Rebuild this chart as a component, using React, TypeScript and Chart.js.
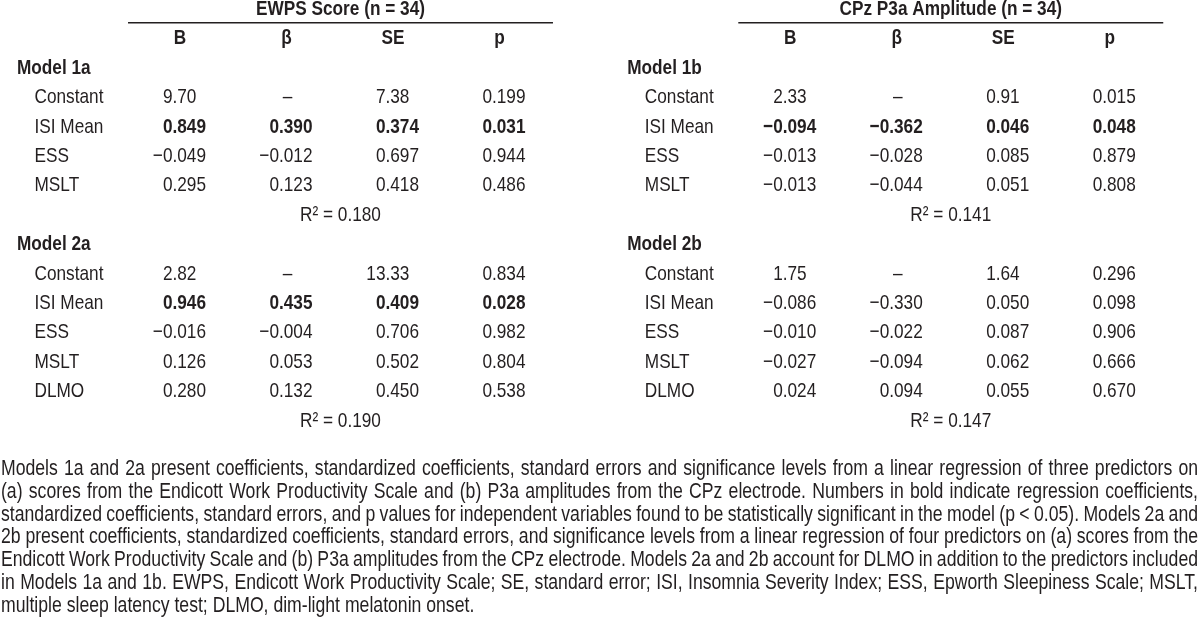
import React, { useEffect, useRef } from "react";
import { Chart, registerables } from "chart.js";

Chart.register(...registerables);

// ---------------- data ----------------
const TABLE_TITLES = ["EWPS Score (n = 34)", "CPz P3a Amplitude (n = 34)"];
const COLUMN_HEADERS = ["B", "β", "SE", "p"];
const MODEL_NAMES_EWPS = ["Model 1a", "Model 2a"];
const MODEL_NAMES_CPZ = ["Model 1b", "Model 2b"];
const PREDICTORS_MODEL1 = ["Constant", "ISI Mean", "ESS", "MSLT"];
const PREDICTORS_MODEL2 = ["Constant", "ISI Mean", "ESS", "MSLT", "DLMO"];

// EWPS Score – Model 1a
const EWPS_1A_B = ["9.70", "0.849", "−0.049", "0.295"];
const EWPS_1A_BETA = ["–", "0.390", "−0.012", "0.123"];
const EWPS_1A_SE = ["7.38", "0.374", "0.697", "0.418"];
const EWPS_1A_P = ["0.199", "0.031", "0.944", "0.486"];
const EWPS_1A_SIG = [false, true, false, false];
const EWPS_1A_R2 = "0.180";

// EWPS Score – Model 2a
const EWPS_2A_B = ["2.82", "0.946", "−0.016", "0.126", "0.280"];
const EWPS_2A_BETA = ["–", "0.435", "−0.004", "0.053", "0.132"];
const EWPS_2A_SE = ["13.33", "0.409", "0.706", "0.502", "0.450"];
const EWPS_2A_P = ["0.834", "0.028", "0.982", "0.804", "0.538"];
const EWPS_2A_SIG = [false, true, false, false, false];
const EWPS_2A_R2 = "0.190";

// CPz P3a Amplitude – Model 1b
const CPZ_1B_B = ["2.33", "−0.094", "−0.013", "−0.013"];
const CPZ_1B_BETA = ["–", "−0.362", "−0.028", "−0.044"];
const CPZ_1B_SE = ["0.91", "0.046", "0.085", "0.051"];
const CPZ_1B_P = ["0.015", "0.048", "0.879", "0.808"];
const CPZ_1B_SIG = [false, true, false, false];
const CPZ_1B_R2 = "0.141";

// CPz P3a Amplitude – Model 2b
const CPZ_2B_B = ["1.75", "−0.086", "−0.010", "−0.027", "0.024"];
const CPZ_2B_BETA = ["–", "−0.330", "−0.022", "−0.094", "0.094"];
const CPZ_2B_SE = ["1.64", "0.050", "0.087", "0.062", "0.055"];
const CPZ_2B_P = ["0.296", "0.098", "0.906", "0.666", "0.670"];
const CPZ_2B_SIG = [false, false, false, false, false];
const CPZ_2B_R2 = "0.147";

const CAPTION_LINES = [
  "Models 1a and 2a present coefficients, standardized coefficients, standard errors and significance levels from a linear regression of three predictors on",
  "(a) scores from the Endicott Work Productivity Scale and (b) P3a amplitudes from the CPz electrode. Numbers in bold indicate regression coefficients,",
  "standardized coefficients, standard errors, and p values for independent variables found to be statistically significant in the model (p < 0.05). Models 2a and",
  "2b present coefficients, standardized coefficients, standard errors, and significance levels from a linear regression of four predictors on (a) scores from the",
  "Endicott Work Productivity Scale and (b) P3a amplitudes from the CPz electrode. Models 2a and 2b account for DLMO in addition to the predictors included",
  "in Models 1a and 1b. EWPS, Endicott Work Productivity Scale; SE, standard error; ISI, Insomnia Severity Index; ESS, Epworth Sleepiness Scale; MSLT,",
  "multiple sleep latency test; DLMO, dim-light melatonin onset.",
];

// ---------------- layout (scale units) ----------------
const L = {
  tableOffset: 5.73,
  modelX: -0.775,
  predictorX: -0.61,
  centerX: 2.263,
  headerShift: 0.245,
  dashShift: 0.235,
  ruleX: [0.268, 4.258],
  titleRow: -2,
  headerRow: -1,
  ruleRow: -1.54,
  model1Row: 0,
  model2Row: 6,
  xMin: -0.934,
  xMax: 10.333,
  yMin: -2.313,
  yMax: 18.98,
  fontSize: 21,
  captionFontSize: 21.5,
  captionTop: 469,
  captionPitch: 22.8,
  captionLeft: 1,
  captionRight: 1198,
  color: "#231f20",
};

type Cell = { x: number; y: number; text: string; kind: string; bold?: boolean; align: string };

function buildTable(
  t: number,
  modelNames: string[],
  m1: string[][],
  m1sig: boolean[],
  m1r2: string,
  m2: string[][],
  m2sig: boolean[],
  m2r2: string
): Cell[] {
  const off = t * L.tableOffset;
  const cells: Cell[] = [];
  cells.push({ x: L.centerX + off, y: L.titleRow, text: TABLE_TITLES[t], kind: "title", bold: true, align: "center" });
  COLUMN_HEADERS.forEach((h, c) =>
    cells.push({ x: c + 1 + off - L.headerShift, y: L.headerRow, text: h, kind: "colhead", bold: true, align: "center" })
  );
  const addModel = (row0: number, name: string, preds: string[], cols: string[][], sig: boolean[], r2: string) => {
    cells.push({ x: L.modelX + off, y: row0, text: name, kind: "model", bold: true, align: "left" });
    preds.forEach((p, i) => {
      cells.push({ x: L.predictorX + off, y: row0 + 1 + i, text: p, kind: "pred", align: "left" });
      cols.forEach((col, c) => {
        const v = col[i];
        if (v === "–") {
          cells.push({ x: c + 1 + off - L.dashShift, y: row0 + 1 + i, text: v, kind: "num", bold: sig[i], align: "center" });
        } else {
          cells.push({ x: c + 1 + off, y: row0 + 1 + i, text: v, kind: "num", bold: sig[i], align: "decimal" });
        }
      });
    });
    cells.push({ x: L.centerX + off, y: row0 + 1 + preds.length, text: "R² = " + r2, kind: "r2", align: "center" });
  };
  addModel(L.model1Row, modelNames[0], PREDICTORS_MODEL1, m1, m1sig, m1r2);
  addModel(L.model2Row, modelNames[1], PREDICTORS_MODEL2, m2, m2sig, m2r2);
  return cells;
}

let NARROW: boolean | null = null;
function narrowAvailable(): boolean {
  if (NARROW !== null) return NARROW;
  const c = document.createElement("canvas").getContext("2d") as CanvasRenderingContext2D;
  c.font = '50px "Liberation Sans Narrow", monospace';
  const a = c.measureText("Constant ISI Mean").width;
  c.font = "50px monospace";
  const b = c.measureText("Constant ISI Mean").width;
  NARROW = Math.abs(a - b) > 0.5;
  return NARROW;
}

function setFont(ctx: CanvasRenderingContext2D, bold: boolean, size: number): number {
  if (narrowAvailable()) {
    ctx.font = `${bold ? "bold " : ""}${size}px "Liberation Sans Narrow"`;
    return 1;
  }
  ctx.font = `${bold ? "bold " : ""}${size}px "Liberation Sans", Arial, sans-serif`;
  return 0.82;
}

function drawText(ctx: CanvasRenderingContext2D, text: string, x: number, y: number, bold: boolean, size: number, align: string) {
  const sx = setFont(ctx, bold, size);
  const w = ctx.measureText(text).width * sx;
  let left = x;
  if (align === "right") left = x - w;
  else if (align === "center") left = x - w / 2;
  else if (align === "decimal") {
    const twoDec = /\.\d{2}$/.test(text);
    const shift = twoDec ? ctx.measureText("0").width * sx : 0;
    left = x - shift - w;
  }
  ctx.save();
  ctx.translate(left, y);
  ctx.scale(sx, 1);
  ctx.textAlign = "left";
  ctx.textBaseline = "middle";
  ctx.fillText(text, 0, 0);
  ctx.restore();
}

function drawCaption(ctx: CanvasRenderingContext2D) {
  const sx = setFont(ctx, false, L.captionFontSize);
  ctx.save();
  ctx.fillStyle = L.color;
  ctx.textAlign = "left";
  ctx.textBaseline = "middle";
  const target = L.captionRight - L.captionLeft;
  CAPTION_LINES.forEach((line, li) => {
    const y = L.captionTop + li * L.captionPitch;
    const words = line.split(" ");
    const ws = words.map((w) => ctx.measureText(w).width * sx);
    const sum = ws.reduce((a, b) => a + b, 0);
    const spaceW = ctx.measureText(" ").width * sx;
    const last = li === CAPTION_LINES.length - 1;
    let gap = spaceW;
    let squeeze = 1;
    if (!last && words.length > 1) {
      gap = (target - sum) / (words.length - 1);
      if (gap < spaceW * 0.6) {
        gap = spaceW * 0.6;
        squeeze = (target - gap * (words.length - 1)) / sum;
      }
    }
    let x = L.captionLeft;
    words.forEach((w, i) => {
      ctx.save();
      ctx.translate(x, y);
      ctx.scale(sx * squeeze, 1);
      ctx.fillText(w, 0, 0);
      ctx.restore();
      x += ws[i] * squeeze + gap;
    });
  });
  ctx.restore();
}

const tableTextPlugin = {
  id: "tableText",
  afterDatasetsDraw(chart: any) {
    const ctx: CanvasRenderingContext2D = chart.ctx;
    ctx.save();
    ctx.fillStyle = L.color;
    chart.data.datasets.forEach((ds: any, di: number) => {
      if (ds.isRule) return;
      const meta = chart.getDatasetMeta(di);
      meta.data.forEach((el: any, i: number) => {
        const cell: Cell = ds.data[i];
        drawText(ctx, cell.text, el.x, el.y, !!cell.bold, L.fontSize, cell.align);
      });
    });
    ctx.restore();
    drawCaption(ctx);
  },
};

export default function App() {
  const ref = useRef<HTMLCanvasElement | null>(null);
  useEffect(() => {
    document.body.style.margin = "0";
    const canvas = ref.current;
    if (!canvas) return;
    const ewps = buildTable(
      0,
      MODEL_NAMES_EWPS,
      [EWPS_1A_B, EWPS_1A_BETA, EWPS_1A_SE, EWPS_1A_P],
      EWPS_1A_SIG,
      EWPS_1A_R2,
      [EWPS_2A_B, EWPS_2A_BETA, EWPS_2A_SE, EWPS_2A_P],
      EWPS_2A_SIG,
      EWPS_2A_R2
    );
    const cpz = buildTable(
      1,
      MODEL_NAMES_CPZ,
      [CPZ_1B_B, CPZ_1B_BETA, CPZ_1B_SE, CPZ_1B_P],
      CPZ_1B_SIG,
      CPZ_1B_R2,
      [CPZ_2B_B, CPZ_2B_BETA, CPZ_2B_SE, CPZ_2B_P],
      CPZ_2B_SIG,
      CPZ_2B_R2
    );
    const rule = (t: number) => ({
      isRule: true,
      data: [
        { x: L.ruleX[0] + t * L.tableOffset, y: L.ruleRow },
        { x: L.ruleX[1] + t * L.tableOffset, y: L.ruleRow },
      ],
      showLine: true,
      borderColor: L.color,
      borderWidth: 1.5,
      pointRadius: 0,
    });
    const chart = new Chart(canvas, {
      type: "scatter",
      data: {
        datasets: [
          { label: "EWPS", data: ewps as any, pointRadius: 0, pointHoverRadius: 0 },
          { label: "CPz", data: cpz as any, pointRadius: 0, pointHoverRadius: 0 },
          rule(0) as any,
          rule(1) as any,
        ],
      },
      options: {
        animation: false,
        responsive: false,
        maintainAspectRatio: false,
        devicePixelRatio: 1,
        layout: { padding: 0 },
        events: [],
        plugins: { legend: { display: false }, tooltip: { enabled: false } },
        scales: {
          x: { type: "linear", display: false, min: L.xMin, max: L.xMax },
          y: { type: "linear", display: false, reverse: true, min: L.yMin, max: L.yMax },
        },
      },
      plugins: [tableTextPlugin],
    });
    return () => chart.destroy();
  }, []);
  return (
    <div style={{ background: "#fff", width: 1200, height: 626 }}>
      <canvas ref={ref} width={1200} height={626} style={{ display: "block", width: 1200, height: 626 }} />
    </div>
  );
}
